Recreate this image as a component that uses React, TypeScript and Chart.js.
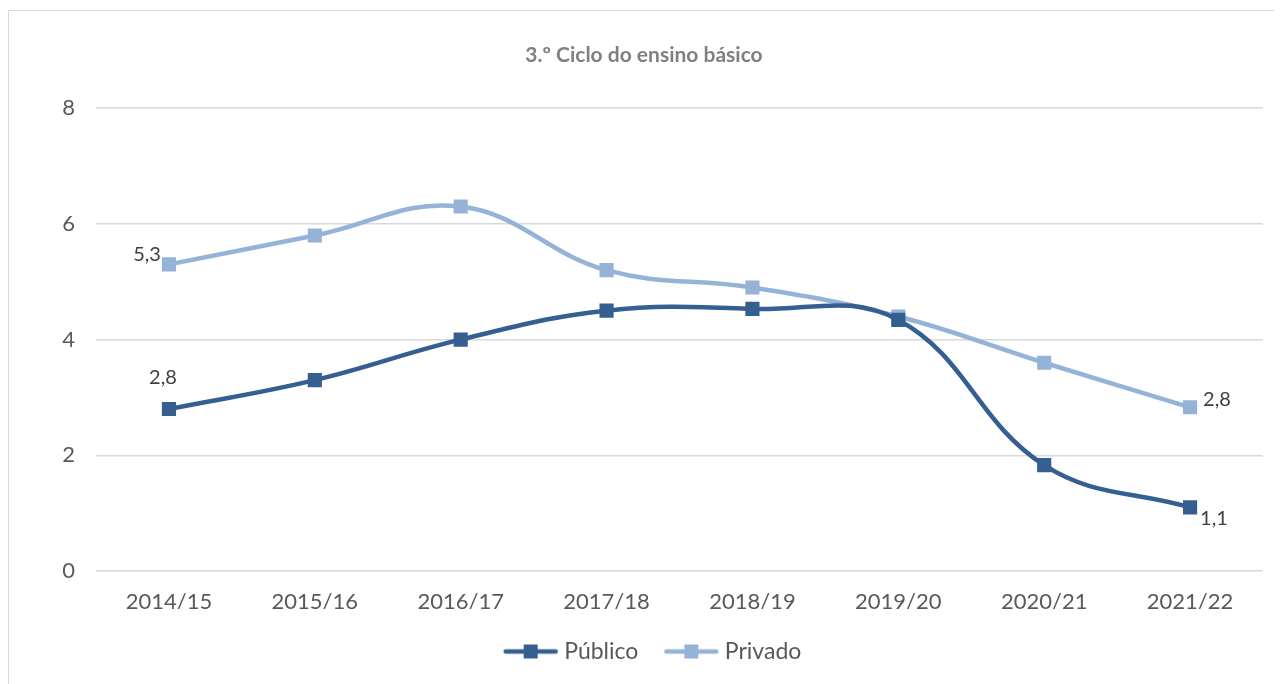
import React, { useEffect, useRef } from "react";
import { Chart, registerables } from "chart.js";

Chart.register(...registerables);

const titleText = "3.º Ciclo do ensino básico";
const categories = ["2014/15", "2015/16", "2016/17", "2017/18", "2018/19", "2019/20", "2020/21", "2021/22"];
const publico = [2.8, 3.3, 4.0, 4.5, 4.53, 4.34, 1.83, 1.1];
const privado = [5.3, 5.8, 6.3, 5.2, 4.9, 4.4, 3.6, 2.83];
const publicoLabels = ["2,8", "", "", "", "", "", "", "1,1"];
const privadoLabels = ["5,3", "", "", "", "", "", "", "2,8"];
const yTicks = [0, 2, 4, 6, 8];

const DARK = "#365F91";
const LIGHT = "#95B3D7";
const FONT = "Lato, 'Open Sans', sans-serif";

function makeLegendIcon(color: string) {
  const c = document.createElement("canvas");
  c.width = 56;
  c.height = 16;
  const ctx = c.getContext("2d")!;
  ctx.strokeStyle = color;
  ctx.lineWidth = 4.5;
  ctx.lineCap = "round";
  ctx.beginPath();
  ctx.moveTo(3, 8);
  ctx.lineTo(53, 8);
  ctx.stroke();
  ctx.fillStyle = color;
  ctx.fillRect(21, 1, 14, 14);
  return c;
}

// per-dataset label placement (dx, dy, align)
const labelPlacement: Record<string, { dx: number; dy: number; align: CanvasTextAlign }> = {
  "0-0": { dx: -6, dy: -31, align: "center" },
  "0-7": { dx: 10, dy: 11, align: "left" },
  "1-0": { dx: -8, dy: -10, align: "right" },
  "1-7": { dx: 13, dy: -8, align: "left" },
};

const dataLabelPlugin = {
  id: "pointLabels",
  afterLayout(chart: any) {
    if (chart.legend) {
      chart.legend.left += 19;
      chart.legend.right += 19;
    }
    if (chart.titleBlock) {
      chart.titleBlock.left += 8;
      chart.titleBlock.right += 8;
    }
  },
  afterDatasetsDraw(chart: any) {
    const ctx = chart.ctx;
    const labelSets = [publicoLabels, privadoLabels];
    ctx.save();
    ctx.font = `20px ${FONT}`;
    ctx.fillStyle = "#404040";
    ctx.textBaseline = "middle";
    labelSets.forEach((labels, ds) => {
      const meta = chart.getDatasetMeta(ds);
      labels.forEach((txt, i) => {
        if (!txt) return;
        const pt = meta.data[i];
        const p = labelPlacement[`${ds}-${i}`] || { dx: 0, dy: -20, align: "center" };
        ctx.textAlign = p.align;
        ctx.fillText(txt, pt.x + p.dx, pt.y + p.dy);
      });
    });
    ctx.restore();
  },
};

export default function App() {
  const ref = useRef<HTMLCanvasElement>(null);

  useEffect(() => {
    document.documentElement.style.overflow = "hidden";
    document.body.style.overflow = "hidden";
    const icons = [makeLegendIcon(DARK), makeLegendIcon(LIGHT)];
    const chart = new Chart(ref.current!, {
      type: "line",
      data: {
        labels: categories,
        datasets: [
          {
            label: "Público",
            data: publico,
            borderColor: DARK,
            backgroundColor: DARK,
            borderWidth: 4.5,
            tension: 0.4,
            pointStyle: "rect",
            pointRadius: 10,
            pointBorderWidth: 0,
            pointBackgroundColor: DARK,
          },
          {
            label: "Privado",
            data: privado,
            borderColor: LIGHT,
            backgroundColor: LIGHT,
            borderWidth: 4.5,
            tension: 0.4,
            pointStyle: "rect",
            pointRadius: 10,
            pointBorderWidth: 0,
            pointBackgroundColor: LIGHT,
          },
        ],
      },
      options: {
        responsive: false,
        animation: false,
        layout: { padding: { left: 0, right: 19, top: 0, bottom: 11 } },
        plugins: {
          title: {
            display: true,
            text: titleText,
            color: "#808080",
            font: { family: FONT, size: 21, weight: "bold" },
            padding: { top: 32, bottom: 40 },
          },
          legend: {
            position: "bottom",
            labels: {
              usePointStyle: true,
              pointStyleWidth: 44,
              padding: 31,
              color: "#595959",
              font: { family: FONT, size: 23 },
              generateLabels(chart: any) {
                const items = Chart.defaults.plugins.legend.labels.generateLabels(chart);
                return items.map((it: any, i: number) => ({ ...it, pointStyle: icons[i] }));
              },
            },
          },
          tooltip: { enabled: false },
        },
        scales: {
          x: {
            offset: true,
            grid: { display: false, drawTicks: false },
            border: { display: false },
            ticks: { color: "#595959", font: { family: FONT, size: 22 }, padding: 18, maxRotation: 0 },
            afterFit(scale: any) {
              scale.height = 38;
            },
          },
          y: {
            min: 0,
            max: 8,
            afterBuildTicks(scale: any) {
              scale.ticks = yTicks.map((v) => ({ value: v }));
            },
            grid: { color: "#d9d9d9", lineWidth: 1.5, drawTicks: false },
            border: { display: false },
            ticks: { color: "#595959", font: { family: FONT, size: 22 }, padding: 21 },
            afterFit(scale: any) {
              scale.width = 87;
            },
          },
        },
      },
      plugins: [dataLabelPlugin],
    } as any);
    return () => chart.destroy();
  }, []);

  return (
    <div
      style={{
        position: "relative",
        top: 2,
        width: 1290,
        height: 700,
        border: "1px solid #d9d9d9",
        boxSizing: "border-box",
      }}
    >
      <canvas ref={ref} width={1273} height={673} style={{ display: "block" }} />
    </div>
  );
}
